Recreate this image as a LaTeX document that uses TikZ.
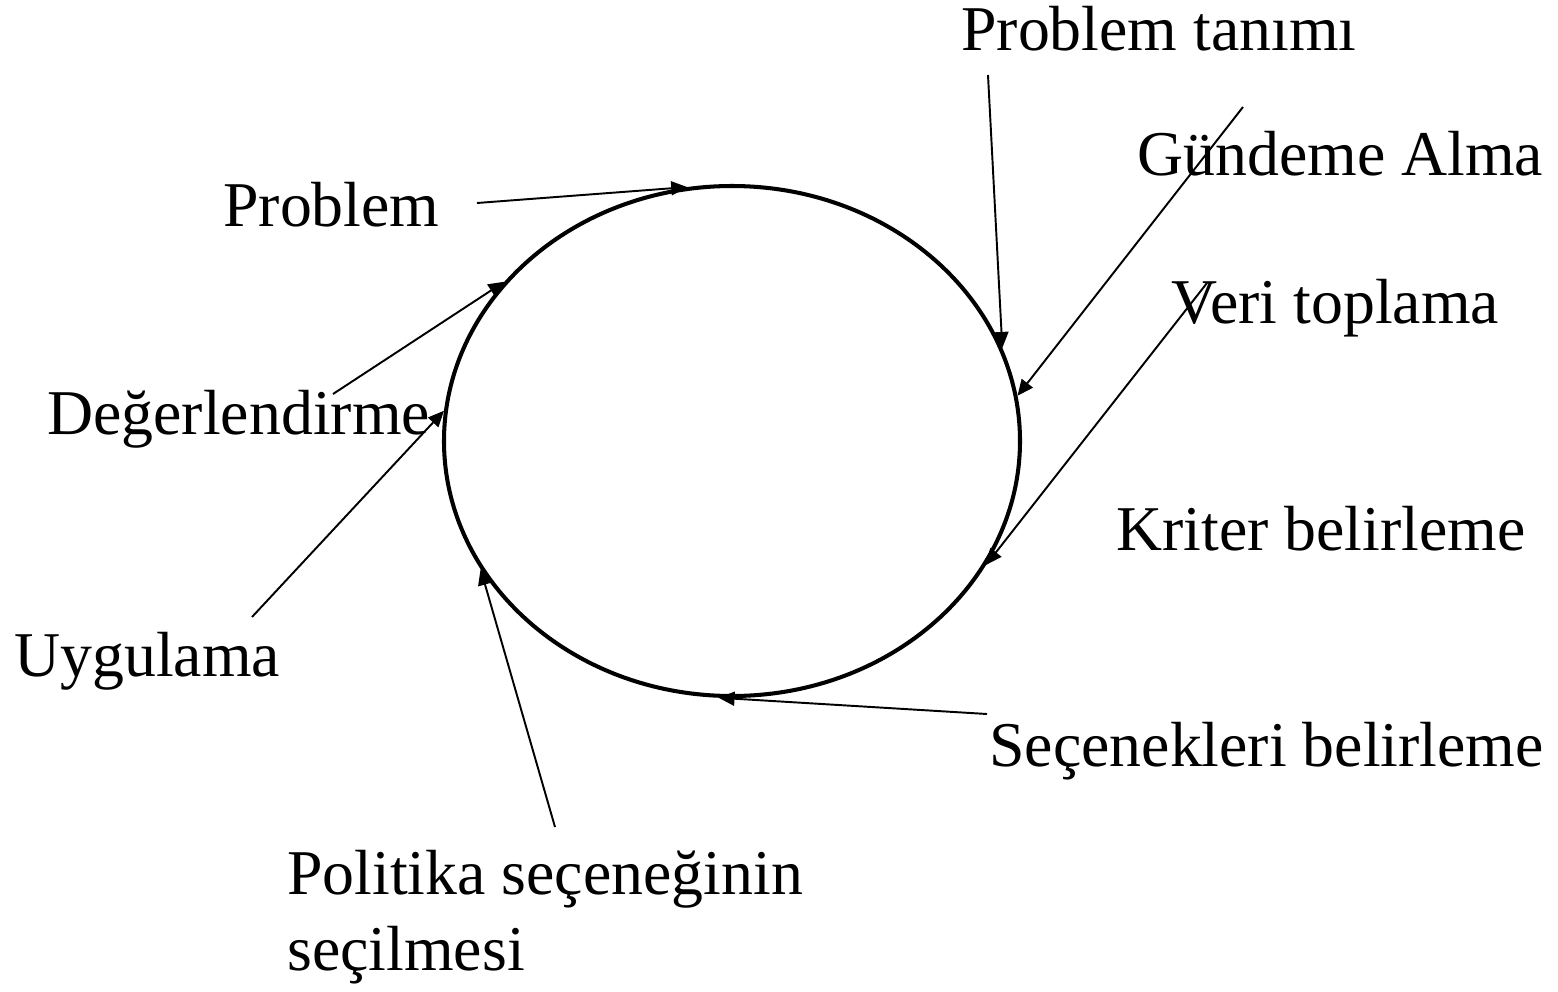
\documentclass[tikz,border=0pt]{standalone}
\usepackage{fontspec}
\setmainfont{Liberation Serif}
\usepackage{tikz}
\usetikzlibrary{shapes,arrows.meta}
\usetikzlibrary{calc,positioning}
\tikzset{
    cycle/.style = {draw, ellipse, line width=2.3pt, inner sep=0pt, minimum width=11.52cm, minimum height=10.2cm},
    label/.style = {inner sep=0pt, anchor=base west, font=\fontsize{36.3}{42.7}\selectfont},
    arrow/.style = {draw, line width=1.1pt, -{Triangle[length=0.32cm,width=0.28cm]}},
}

\begin{document}
\begin{tikzpicture}
    \useasboundingbox (0,0) rectangle (31.16,-19.82);
    \node [cycle] (cyc) at (14.64,-8.82) {};
    % stage labels
    \node [label] (tanim) at (19.22,-1.0) {Problem tanımı};
    \node [label] (gundem) at (22.74,-3.5) {Gündeme Alma};
    \node [label] (problem) at (4.46,-4.52) {Problem};
    \node [label] (veri) at (23.42,-6.46) {Veri toplama};
    \node [label] (deger) at (0.94,-8.68) {Değerlendirme};
    \node [label] (kriter) at (22.32,-11.0) {Kriter belirleme};
    \node [label] (uygula) at (0.28,-13.52) {Uygulama};
    \node [label] (secenek) at (19.78,-15.32) {Seçenekleri belirleme};
    \node [label, align=left] (politika) at (5.74,-19.4) {Politika seçeneğinin\\seçilmesi};
    % free ends of the arrows
    \coordinate (problem-e) at (9.54,-4.06);
    \coordinate (tanim-e) at (19.76,-1.5);
    \coordinate (gundem-e) at (24.86,-2.14);
    \coordinate (veri-e) at (24.14,-5.66);
    \coordinate (secenek-e) at (19.74,-14.28);
    \coordinate (politika-e) at (11.1,-16.54);
    \coordinate (uygula-e) at (5.04,-12.34);
    \coordinate (deger-e) at (6.66,-7.88);
    \draw [arrow] (problem-e) -- (cyc.100.2);
    \draw [arrow] (tanim-e) -- (cyc.19.4);
    \draw [arrow] (gundem-e) -- (cyc.9.5);
    \draw [arrow] (veri-e) -- (cyc.-26.7);
    \draw [arrow] (secenek-e) -- (cyc.-93.1);
    \draw [arrow] (politika-e) -- (cyc.-153.2);
    \draw [arrow] (uygula-e) -- (cyc.174.3);
    \draw [arrow] (deger-e) -- (cyc.145);
\end{tikzpicture}
\end{document}
